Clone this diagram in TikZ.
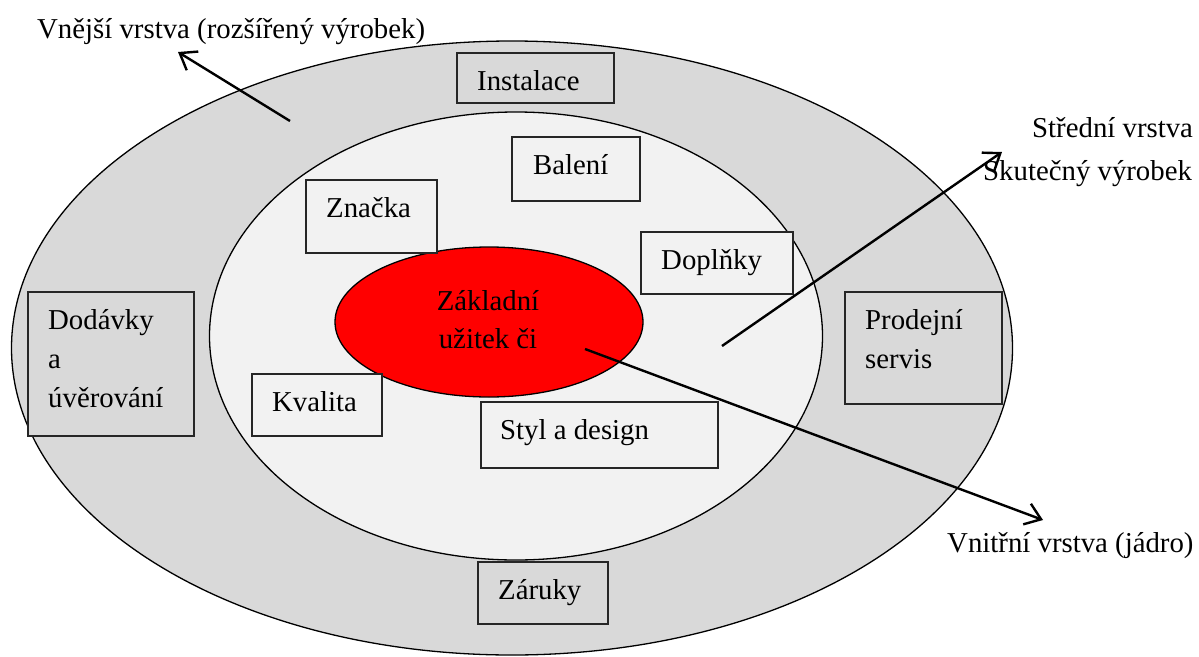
\documentclass[tikz,border=0pt]{standalone}
\usepackage{fontspec}
\setmainfont{Liberation Serif}
\usetikzlibrary{shapes.geometric,arrows.meta,calc}
\definecolor{ringgray}{HTML}{D9D9D9}
\definecolor{innergray}{HTML}{F2F2F2}
\definecolor{coredred}{HTML}{FF0000}
\begin{document}
\begin{tikzpicture}[x=1pt,y=-1pt,
  layer/.style={ellipse, draw=black, line width=1.3pt, inner sep=0pt, outer sep=0pt},
  tbox/.style={rectangle, draw=black!85, line width=1.3pt, inner sep=0pt, outer sep=0pt, anchor=north west},
  txt/.style={anchor=base west, inner sep=0pt, font=\fontsize{28.8}{39}\selectfont},
  ctxt/.style={anchor=base, inner sep=0pt, font=\fontsize{28.8}{39}\selectfont},
  pointer/.style={line width=2.4pt, -{Straight Barb[length=15pt,width=22pt,line width=2.4pt]}}
]
\useasboundingbox (0,0) rectangle (1199,656);
\fill[white] (0,0) rectangle (1199,656);

% the three layers of the product
\node[layer, fill=ringgray, minimum width=1001pt, minimum height=614pt] (outer) at (512,348) {};
\node[layer, fill=innergray, minimum width=613pt, minimum height=448pt] (inner) at (516,336) {};
\node[layer, fill=coredred, minimum width=308pt, minimum height=150pt] (core) at (489,322) {};
\node[ctxt] (coreA) at (488,310) {Základní};
\node[ctxt] (coreB) at (488,348) {užitek či};

% outer layer boxes
\node[tbox, fill=ringgray, minimum width=157pt, minimum height=50pt] (inst) at (457,53) {};
\node[txt] at ($(inst.north west)+(20,37)$) {Instalace};

\node[tbox, fill=ringgray, minimum width=130pt, minimum height=62pt] (zar) at (478,562) {};
\node[txt] at ($(zar.north west)+(20,37)$) {Záruky};

\node[tbox, fill=ringgray, minimum width=166pt, minimum height=144pt] (dod) at (28,292) {};
\node[txt] at ($(dod.north west)+(20,37)$) {Dodávky};
\node[txt] at ($(dod.north west)+(20,76)$) {a};
\node[txt] at ($(dod.north west)+(20,115)$) {úvěrování};

\node[tbox, fill=ringgray, minimum width=157pt, minimum height=112pt] (prod) at (845,292) {};
\node[txt] at ($(prod.north west)+(20,37)$) {Prodejní};
\node[txt] at ($(prod.north west)+(20,76)$) {servis};

% middle layer boxes
\node[tbox, fill=innergray, minimum width=128pt, minimum height=64pt] (bal) at (512,137) {};
\node[txt] at ($(bal.north west)+(21,37)$) {Balení};

\node[tbox, fill=innergray, minimum width=131pt, minimum height=73pt] (zn) at (306,180) {};
\node[txt] at ($(zn.north west)+(20,37)$) {Značka};

\node[tbox, fill=innergray, minimum width=152pt, minimum height=62pt] (dopl) at (641,232) {};
\node[txt] at ($(dopl.north west)+(20,37)$) {Doplňky};

\node[tbox, fill=innergray, minimum width=130pt, minimum height=62pt] (kv) at (252,374) {};
\node[txt] at ($(kv.north west)+(20,37)$) {Kvalita};

\node[tbox, fill=innergray, minimum width=237pt, minimum height=66pt] (styl) at (481,402) {};
\node[txt] at ($(styl.north west)+(19,37)$) {Styl a design};

% captions
\node[txt] (capOuter) at (37,38) {Vnější vrstva (rozšířený výrobek)};
\node[txt] (capMidA) at (1032,137) {Střední vrstva};
\node[txt] (capMidB) at (983,180) {Skutečný výrobek};
\node[txt] (capCore) at (947,552) {Vnitřní vrstva (jádro)};

% pointers from the layers to their captions
\coordinate (outerTail) at (290,121);
\coordinate (outerTip) at (178,52);
\coordinate (midTail) at (722,346);
\coordinate (midTip) at (1002,152);
\coordinate (coreTail) at (585,349);
\coordinate (coreTip) at (1043,520);
\draw[pointer] (outerTail) -- (outerTip);
\draw[pointer] (midTail) -- (midTip);
\draw[pointer] (coreTail) -- (coreTip);
\end{tikzpicture}
\end{document}
